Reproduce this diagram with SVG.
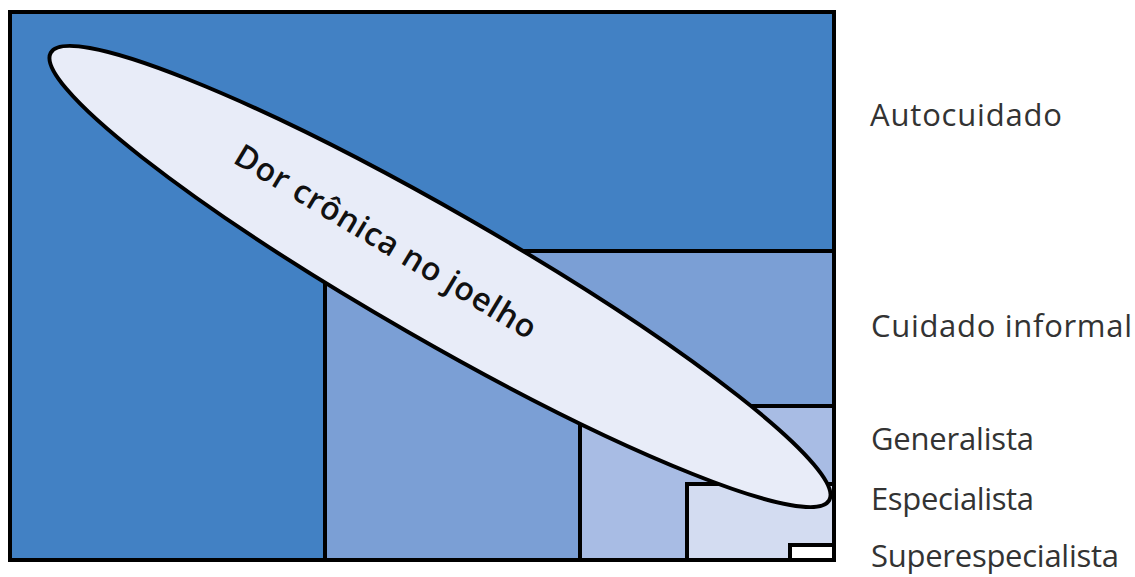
<svg xmlns="http://www.w3.org/2000/svg" width="1135" height="577" viewBox="0 0 1135 577">
<style>
.box{stroke:#000;stroke-width:4}
.lbl{font-family:"Open Sans","Liberation Sans",sans-serif;font-size:31px;fill:#333}
.main{font-family:"Open Sans","Liberation Sans",sans-serif;font-size:32px;font-weight:600;fill:#111}
</style>
<rect width="1135" height="577" fill="#fff"/>
<g id="autocuidado">
<rect class="box" x="10" y="12" width="824" height="548" fill="#4281C4"/>
<text class="lbl" x="870" y="126" textLength="192" lengthAdjust="spacing">Autocuidado</text>
</g>
<g id="cuidado-informal">
<rect class="box" x="325" y="251" width="509" height="309" fill="#7B9FD5"/>
<text class="lbl" x="871" y="337" textLength="261" lengthAdjust="spacing">Cuidado informal</text>
</g>
<g id="generalista">
<rect class="box" x="580" y="406" width="254" height="154" fill="#A8BCE4"/>
<text class="lbl" x="871" y="450" textLength="163" lengthAdjust="spacing">Generalista</text>
</g>
<g id="especialista">
<rect class="box" x="687" y="484" width="147" height="76" fill="#D3DCF1"/>
<text class="lbl" x="871" y="510" textLength="163" lengthAdjust="spacing">Especialista</text>
</g>
<g id="superespecialista">
<rect class="box" x="790" y="545" width="44" height="15" fill="#fff"/>
<text class="lbl" x="871" y="567" textLength="248" lengthAdjust="spacing">Superespecialista</text>
</g>
<g id="dor-cronica">
<ellipse cx="440" cy="276.5" rx="449" ry="64" transform="rotate(29.9 440 276.5)" fill="#E8ECF8" stroke="#000" stroke-width="4"/>
<text class="main" text-anchor="middle" transform="translate(380 251) rotate(31)" textLength="346" lengthAdjust="spacing">Dor crônica no joelho</text>
</g>
<g id="connectors"/>
</svg>
